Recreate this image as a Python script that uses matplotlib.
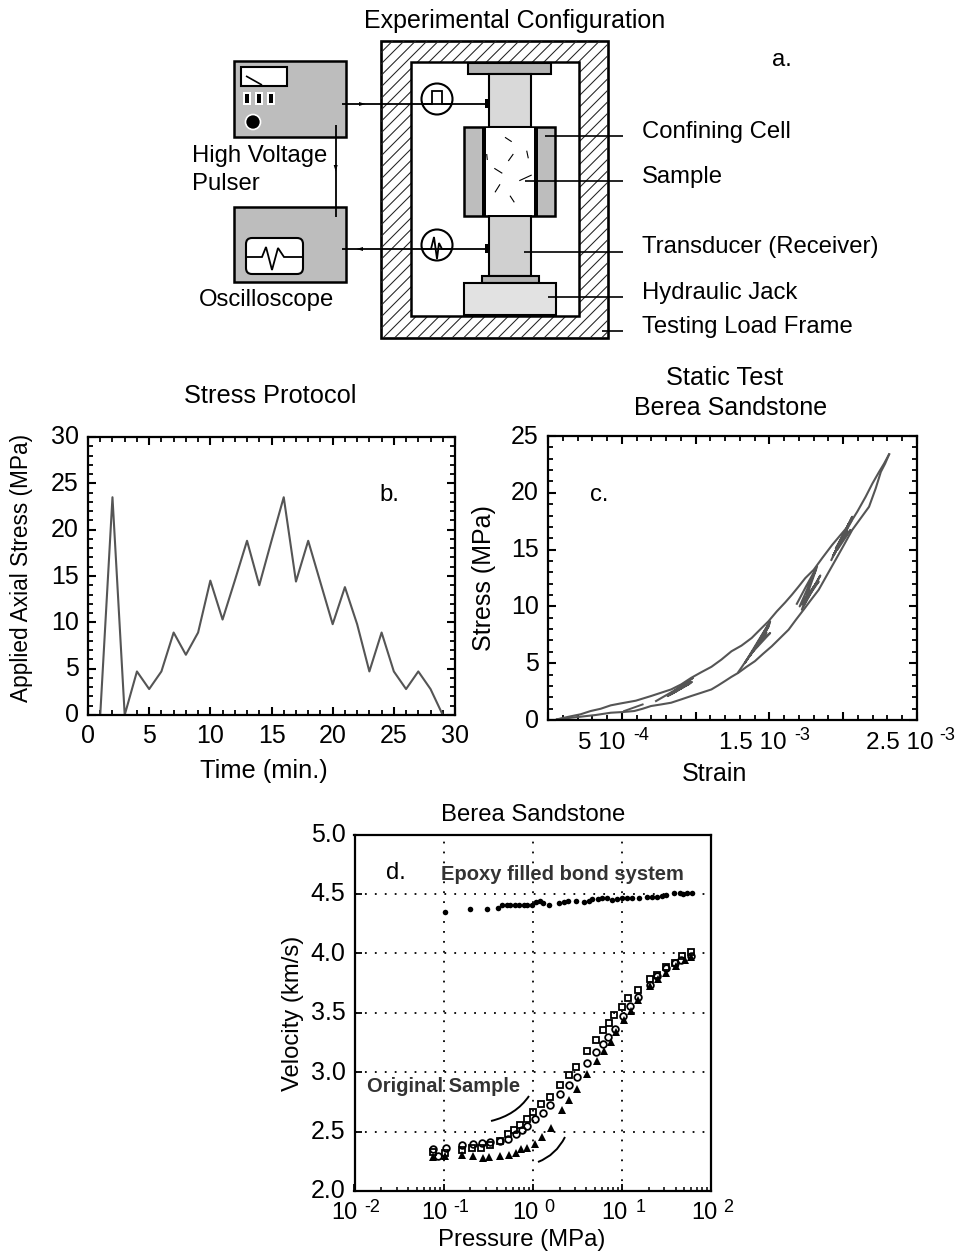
import numpy as np
import matplotlib as mpl
mpl.use("Agg")
import matplotlib.pyplot as plt
from matplotlib.patches import Rectangle, Circle, FancyBboxPatch, PathPatch
from matplotlib.path import Path
from matplotlib.transforms import ScaledTranslation
from matplotlib.ticker import MultipleLocator, LogLocator, NullFormatter

plt.rcParams.update({
    'font.family': ['Liberation Sans', 'DejaVu Sans'],
    'axes.linewidth': 1.6,
})

W, H = 958, 1253

# ------------------------------------------------------------------
# data
# ------------------------------------------------------------------

# b. stress protocol
time_min = [1, 2, 3, 4, 5, 6, 7, 8, 9, 10, 11, 12, 13, 14, 15, 16, 17, 18, 19, 20,
            21, 22, 23, 24, 25, 26, 27, 28, 29]
axial_stress = [0, 23.5, 0, 4.7, 2.8, 4.7, 8.9, 6.5, 8.9, 14.5, 10.3, 14.5, 18.8, 14.0, 18.8,
                23.5, 14.4, 18.8, 14.3, 9.8, 13.8, 9.8, 4.7, 8.9, 4.7, 2.8, 4.7, 2.8, 0]

# c. static test, strain in units of 1e-3
load_strain = [0.061, 0.141, 0.220, 0.289, 0.357, 0.425, 0.493, 0.595, 0.698, 0.766, 0.834, 0.902,
               0.970, 1.039, 1.107, 1.175, 1.243, 1.311, 1.380, 1.436, 1.493, 1.550, 1.607, 1.652,
               1.698, 1.743, 1.800, 1.857, 1.925, 1.982, 2.039, 2.095, 2.152, 2.198, 2.243, 2.277, 2.311]
load_stress = [0.06, 0.29, 0.50, 0.79, 0.99, 1.29, 1.46, 1.70, 2.11, 2.40, 2.69, 3.13,
               3.71, 4.21, 4.68, 5.32, 6.05, 6.55, 7.22, 7.95, 8.68, 9.56, 10.35, 11.02,
               11.75, 12.49, 13.22, 14.24, 15.41, 16.29, 17.16, 18.33, 19.65, 20.82, 21.84, 22.57, 23.39]
unload_strain = [2.311, 2.284, 2.255, 2.220, 2.175, 2.118, 2.061, 2.005, 1.948, 1.891, 1.834, 1.782,
                 1.732, 1.680, 1.630, 1.573, 1.516, 1.459, 1.402, 1.345, 1.289, 1.243, 1.198, 1.152,
                 1.107, 1.039, 0.970, 0.902, 0.834, 0.766, 0.698, 0.641, 0.584, 0.505, 0.425, 0.323,
                 0.220, 0.141, 0.061]
unload_stress = [23.39, 22.57, 21.84, 20.38, 18.77, 17.75, 16.73, 15.41, 14.09, 12.78, 11.46, 10.58,
                 9.71, 8.83, 7.95, 7.22, 6.49, 5.85, 5.18, 4.68, 4.15, 3.80, 3.42, 3.04,
                 2.69, 2.40, 2.11, 1.81, 1.52, 1.37, 1.23, 0.99, 0.79, 0.70, 0.64, 0.44,
                 0.29, 0.18, 0.06]
hook_strain = [0.516, 0.641]
hook_stress = [0.79, 1.37]
cycle1_strain = [0.732, 0.850, 0.982, 0.811, 0.930, 0.975, 0.830, 0.905, 0.960, 0.845, 0.940]
cycle1_stress = [1.67, 2.55, 3.71, 2.11, 3.05, 3.35, 2.25, 2.85, 3.20, 2.35, 3.10]
cycle2_strain = [1.289, 1.400, 1.505, 1.334, 1.430, 1.505, 1.391, 1.450, 1.495, 1.410, 1.480, 1.370, 1.500]
cycle2_stress = [4.21, 6.30, 8.68, 5.03, 6.80, 7.66, 6.05, 7.20, 8.25, 6.40, 7.70, 5.70, 8.45]
cycle3_strain = [1.686, 1.750, 1.823, 1.720, 1.790, 1.845, 1.732, 1.800, 1.834, 1.750, 1.815, 1.705, 1.810]
cycle3_stress = [10.23, 11.80, 13.51, 9.71, 11.40, 12.72, 10.15, 11.70, 12.19, 10.60, 12.00, 10.00, 13.10]
cycle4_strain = [1.920, 1.985, 2.061, 1.936, 2.000, 2.050, 1.959, 2.010, 2.039, 1.950, 2.025, 1.930, 2.055]
cycle4_stress = [14.09, 15.90, 17.89, 14.53, 16.00, 16.73, 14.97, 16.30, 17.31, 15.10, 16.70, 14.40, 17.50]

# d. velocity vs pressure (log10 of MPa)
epoxy_logp = [-0.99, -0.70, -0.51, -0.39, -0.34, -0.29, -0.25, -0.20, -0.15, -0.10, -0.06, -0.01,
              0.04, 0.08, 0.12, 0.18, 0.30, 0.35, 0.40, 0.48, 0.58, 0.63, 0.67, 0.73, 0.78, 0.83,
              0.89, 0.94, 1.00, 1.06, 1.11, 1.19, 1.28, 1.34, 1.39, 1.45, 1.49, 1.59, 1.65, 1.69,
              1.73, 1.79]
epoxy_vel = [4.348, 4.376, 4.376, 4.382, 4.405, 4.41, 4.41, 4.41, 4.405, 4.405, 4.407, 4.41,
             4.43, 4.44, 4.42, 4.41, 4.42, 4.435, 4.44, 4.44, 4.435, 4.44, 4.46, 4.46, 4.463, 4.463,
             4.45, 4.455, 4.463, 4.463, 4.463, 4.465, 4.474, 4.474, 4.474, 4.48, 4.495, 4.51, 4.51, 4.50,
             4.51, 4.51]
square_logp = [-1.12, -0.98, -0.79, -0.68, -0.58, -0.48, -0.37, -0.28, -0.21, -0.14, -0.07, 0.0,
               0.09, 0.19, 0.31, 0.41, 0.49, 0.61, 0.71, 0.79, 0.85, 0.91, 1.00, 1.07, 1.18, 1.31,
               1.39, 1.49, 1.60, 1.68, 1.78]
square_vel = [2.33, 2.32, 2.346, 2.365, 2.365, 2.39, 2.42, 2.48, 2.514, 2.556, 2.604, 2.669,
              2.73, 2.795, 2.89, 2.98, 3.045, 3.174, 3.27, 3.354, 3.413, 3.478, 3.548, 3.621, 3.694, 3.784,
              3.82, 3.885, 3.919, 3.975, 4.01]
circle_logp = [-1.12, -1.06, -0.97, -0.79, -0.67, -0.57, -0.48, -0.37, -0.28, -0.19, -0.12, -0.06,
               0.03, 0.11, 0.19, 0.31, 0.41, 0.50, 0.61, 0.71, 0.79, 0.84, 0.92, 1.01, 1.09, 1.18,
               1.31, 1.39, 1.49, 1.60, 1.66, 1.77]
circle_vel = [2.354, 2.295, 2.36, 2.385, 2.393, 2.40, 2.416, 2.42, 2.435, 2.477, 2.514, 2.548,
              2.607, 2.654, 2.725, 2.815, 2.89, 2.96, 3.073, 3.166, 3.236, 3.295, 3.365, 3.475, 3.553, 3.629,
              3.73, 3.81, 3.876, 3.919, 3.947, 3.975]
tri_logp = [-1.12, -0.98, -0.79, -0.67, -0.56, -0.49, -0.37, -0.27, -0.19, -0.13, -0.07, 0.03,
            0.10, 0.20, 0.33, 0.41, 0.50, 0.61, 0.72, 0.80, 0.88, 0.93, 1.02, 1.10, 1.18, 1.31,
            1.41, 1.49, 1.61, 1.71, 1.78]
tri_vel = [2.284, 2.295, 2.303, 2.298, 2.275, 2.289, 2.295, 2.303, 2.323, 2.351, 2.36, 2.396,
           2.452, 2.528, 2.68, 2.767, 2.857, 2.986, 3.098, 3.18, 3.258, 3.334, 3.435, 3.514, 3.61, 3.722,
           3.784, 3.834, 3.89, 3.947, 3.969]

# ------------------------------------------------------------------
# helpers
# ------------------------------------------------------------------

fig = plt.figure(figsize=(W / 100, H / 100), dpi=100)


def px_axes(left, top, right, bottom):
    return fig.add_axes([left / W, 1 - bottom / H, (right - left) / W, (bottom - top) / H])


def style_ticks(ax):
    ax.tick_params(which='major', direction='in', length=6, width=1.5, top=True, right=True)
    ax.tick_params(which='minor', direction='in', length=3.5, width=1.3, top=True, right=True)
    ax.tick_params(labelsize=18)
    ax.tick_params(axis='x', pad=6.5)
    ax.tick_params(axis='y', pad=6.5)
    nudge_ylabels(ax)


def nudge_ylabels(ax):
    # the y tick labels sit a little above their ticks in the reference
    up = ScaledTranslation(0, 2 / 72 * 72 / 100, fig.dpi_scale_trans)
    for lab in ax.get_yticklabels():
        lab.set_transform(lab.get_transform() + up)


# ------------------------------------------------------------------
# b. stress protocol
# ------------------------------------------------------------------
axb = px_axes(88, 437, 455, 715)
axb.plot(time_min, axial_stress, color='#555555', lw=1.5)
axb.set_xlim(0, 30)
axb.set_ylim(0, 30)
axb.xaxis.set_major_locator(MultipleLocator(5))
axb.xaxis.set_minor_locator(MultipleLocator(1))
axb.yaxis.set_major_locator(MultipleLocator(5))
axb.yaxis.set_minor_locator(MultipleLocator(1))
style_ticks(axb)

# ------------------------------------------------------------------
# c. static test
# ------------------------------------------------------------------
axc = px_axes(548, 436, 917, 720)
axc.plot(load_strain, load_stress, color='#555555', lw=1.5)
axc.plot(unload_strain, unload_stress, color='#555555', lw=1.5)
axc.plot(hook_strain, hook_stress, color='#555555', lw=1.4)
for cx, cy in [(cycle1_strain, cycle1_stress), (cycle2_strain, cycle2_stress),
               (cycle3_strain, cycle3_stress), (cycle4_strain, cycle4_stress)]:
    axc.plot(cx, cy, color='#555555', lw=1.5)
axc.set_xlim(0, 2.5)
axc.set_ylim(0, 25)
axc.xaxis.set_major_locator(MultipleLocator(0.5))
axc.xaxis.set_minor_locator(MultipleLocator(0.1))
axc.yaxis.set_major_locator(MultipleLocator(5))
axc.yaxis.set_minor_locator(MultipleLocator(1))
axc.tick_params(labelbottom=False)
style_ticks(axc)

# ------------------------------------------------------------------
# d. velocity
# ------------------------------------------------------------------
axd = px_axes(354.5, 834.5, 711, 1191)
axd.semilogx(10 ** np.array(tri_logp), tri_vel, ls='none', marker='^', ms=5.4, color='black', mew=0)
axd.semilogx(10 ** np.array(square_logp), square_vel, ls='none', marker='s', ms=3.8,
             mfc='none', mec='black', mew=1.3)
axd.semilogx(10 ** np.array(circle_logp), circle_vel, ls='none', marker='o', ms=4.8,
             mfc='none', mec='black', mew=1.3)
axd.semilogx(10 ** np.array(epoxy_logp), epoxy_vel, ls='none', marker='o', ms=4, color='black', mew=0)
axd.set_xlim(0.01, 100)
axd.set_ylim(2, 5)
axd.xaxis.set_major_locator(LogLocator(base=10, numticks=6))
axd.xaxis.set_minor_locator(LogLocator(base=10, subs=np.arange(2, 10), numticks=6))
axd.xaxis.set_minor_formatter(NullFormatter())
axd.grid(True, which='major', color='black', lw=1.3, ls=(0, (1, 4.5)))
axd.set_axisbelow(True)
axd.tick_params(which='major', direction='in', length=5, width=1.3, top=False, right=False,
                labelsize=18, pad=6.5)
axd.tick_params(which='minor', direction='in', length=3, width=1.1, top=False, right=False)
axd.tick_params(labelbottom=False)
axd.set_yticks([2, 2.5, 3, 3.5, 4, 4.5, 5], ['2.0', '2.5', '3.0', '3.5', '4.0', '4.5', '5.0'])
nudge_ylabels(axd)

# ------------------------------------------------------------------
# overlay in pixel coordinates: the diagram and all free text
# ------------------------------------------------------------------
ov = fig.add_axes([0, 0, 1, 1], zorder=10)
ov.set_xlim(0, W)
ov.set_ylim(H, 0)
ov.axis('off')
ov.patch.set_alpha(0)


def box(x0, y0, x1, y1, fc, lw=1.5, ec='black', z=2):
    ov.add_patch(Rectangle((x0, y0), x1 - x0, y1 - y0, fc=fc, ec=ec, lw=lw, zorder=z))


def seg(xs, ys, lw=1.3, z=5, color='black'):
    ov.plot(xs, ys, color=color, lw=lw, zorder=z, solid_capstyle='butt', solid_joinstyle='miter')


def arrow(x, y, dx, dy):
    # small wire arrowhead
    ov.fill([x + dx * 3.5, x - dx * 3 - dy * 2, x - dx * 3 + dy * 2],
            [y + dy * 3.5, y - dy * 3 - dx * 2, y - dy * 3 + dx * 2], color='black', zorder=6, lw=0)


def curve(p0, p1, p2, lw=1.4):
    ov.add_patch(PathPatch(Path([p0, p1, p2], [Path.MOVETO, Path.CURVE3, Path.CURVE3]),
                           fc='none', ec='black', lw=lw, zorder=6))


# frame, hatch drawn by hand for the wider line spacing
frame = Rectangle((381, 41), 227, 297, fc='white', ec='black', lw=1.9, zorder=1.2)
ov.add_patch(frame)
for c in np.arange(381 - 297, 608, 11.5):
    line, = ov.plot([c, c + 297], [338, 41], color='#222222', lw=0.75, zorder=1.3)
    line.set_clip_path(frame)
box(411, 62, 579, 316, 'white', lw=1.8, z=1.5)

# pulser
box(234, 61, 346, 137, '#bdbdbd', lw=1.8)
box(241, 67, 287, 86, 'white', lw=1.5, z=3)
seg([246, 262], [76, 85], lw=1.2)
for bx in [243, 255, 267]:
    box(bx, 92, bx + 8, 105, 'white', lw=0, ec='white', z=3)
    box(bx + 2, 94, bx + 6, 103, 'black', lw=0, ec='black', z=4)
ov.add_patch(Circle((253, 122), 7.5, fc='black', ec='white', lw=1.2, zorder=3))

# scope
box(234, 207, 346, 282, '#bdbdbd', lw=1.8)
ov.add_patch(FancyBboxPatch((250, 242), 49, 28, boxstyle='round,pad=4,rounding_size=6',
                            fc='white', ec='black', lw=1.5, zorder=3))
seg([246, 262, 266, 272, 278, 284, 303], [257, 257, 247, 270, 248, 257, 257], lw=1.3)

# wires
seg([342, 486], [104, 104])
seg([342, 486], [249, 249])
seg([335.7, 335.7], [125, 217])
arrow(362, 104, 1, 0)
arrow(360, 249, -1, 0)
arrow(335.7, 168, 0, 1)

# transducer symbols
for cy in [99, 245]:
    ov.add_patch(Circle((437, cy), 15.5, fc='white', ec='black', lw=1.5, zorder=4))
seg([421, 432, 432, 442, 442, 453], [104, 104, 91, 91, 104, 104], lw=1.3, z=5)
seg([422, 431, 434, 437, 439, 442, 452], [249, 249, 237, 259, 243, 249, 249], lw=1.3, z=5)
box(485, 99, 490, 108, 'black', lw=0, z=6)
box(485, 244, 490, 253, 'black', lw=0, z=6)

# column
box(468, 63, 551, 74, '#b3b3b3')
box(489, 74, 531, 127, '#d9d9d9')
box(464, 127, 555, 216, '#bdbdbd', lw=1.8)
box(486, 128, 534, 215, 'white', lw=0, ec='white', z=3)
box(482, 127, 486, 216, 'black', lw=0, z=4)
box(534, 127, 538, 216, 'black', lw=0, z=4)
box(489, 216, 531, 276, '#d0d0d0')
box(482, 276, 539, 283, '#b3b3b3')
box(464, 283, 556, 315, '#e2e2e2')

# flecks in the sample
flecks = [((505, 511.7), (137.3, 141.7)), ((526.7, 528.3), (150.7, 158.3)), ((508.3, 513.3), (161, 154)),
          ((494.3, 502.3), (168.3, 173.3)), ((519.3, 531.7), (180.7, 175)), ((495, 500), (192.3, 184.3)),
          ((510, 514.3), (195.7, 202.3)), ((486.7, 487.3), (154, 160))]
for fx, fy in flecks:
    seg(fx, fy, lw=0.8)

# leaders
for lx, ly in [(545, 135.7), (525, 181), (524, 251.7), (548, 296.7), (602, 331)]:
    seg([lx, 623], [ly, ly], lw=1.2, z=7)


def txt(x, y, s, size=17.2, ha='left', va='center', **kw):
    ov.text(x, y, s, fontsize=size, ha=ha, va=va, color=kw.pop('color', 'black'), zorder=20, **kw)


# diagram text
txt(514.5, 21, 'Experimental Configuration', size=18, ha='center')
txt(772, 60, 'a.')
txt(192, 156, 'High Voltage')
txt(192, 184, 'Pulser')
txt(199, 300, 'Oscilloscope')
txt(642, 132, 'Confining Cell')
txt(642, 177, 'Sample')
txt(642, 247, 'Transducer (Receiver)')
txt(642, 293, 'Hydraulic Jack')
txt(642, 327, 'Testing Load Frame')

# panel titles and labels
txt(270, 396, 'Stress Protocol', size=18.3, ha='center')
txt(725, 378, 'Static Test', size=18.3, ha='center')
txt(731, 408, 'Berea Sandstone', size=18, ha='center')
txt(533, 815, 'Berea Sandstone', ha='center')
txt(263.5, 771, 'Time (min.)', size=18.3, ha='center')
txt(714.5, 774, 'Strain', size=18, ha='center')
txt(521.5, 1240, 'Pressure (MPa)', ha='center')
txt(22, 568, 'Applied Axial Stress (MPa)', size=16.3, ha='center', rotation=90)
txt(484, 578, 'Stress (MPa)', size=18, ha='center', rotation=90)
txt(293, 1013, 'Velocity (km/s)', ha='center', rotation=90)
txt(379, 495, 'b.')
txt(590, 495, 'c.')
txt(386, 873, 'd.')
txt(441, 875, 'Epoxy filled bond system', size=14.5, fontweight='bold', color='#333333')
txt(367, 1087, 'Original Sample', size=14.5, fontweight='bold', color='#333333')

# tick labels with a raised exponent
for lx, base, ex, e in [(578, '5 10', 633, '-4'), (719, '1.5 10', 794, '-3'), (866, '2.5 10', 939, '-3')]:
    txt(lx, 743, base, size=17.5)
    txt(ex, 735, e, size=13)
for lx, ex, e in [(331, 364, '-2'), (421, 453, '-1'), (512, 544, '0'), (601, 636, '1'), (691, 723, '2')]:
    txt(lx, 1213, '10', size=17)
    txt(ex, 1207, e, size=13)

# curved arrows next to the data groups
curve((529, 1096), (516, 1115), (491, 1121))
curve((565, 1137), (556, 1155), (538, 1162))

fig.savefig('out.png', dpi=100)
